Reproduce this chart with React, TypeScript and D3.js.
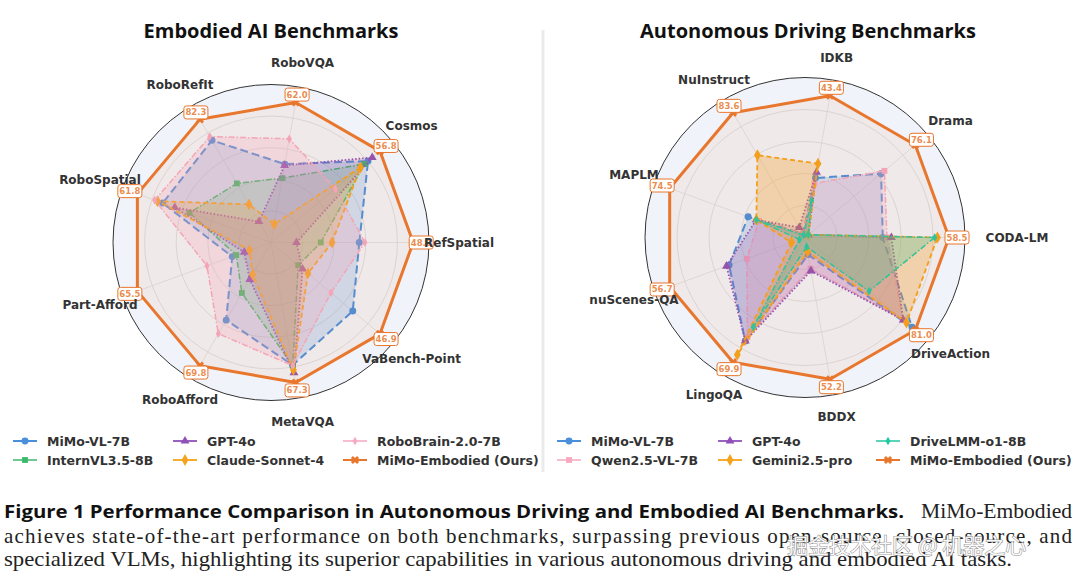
import * as d3 from "d3"

// ---- Embodied AI benchmarks (left) ----
const embodiedAxes = ["RefSpatial", "Cosmos", "RoboVQA", "RoboRefIt", "RoboSpatial", "Part-Afford", "RoboAfford", "MetaVQA", "VaBench-Point"]
const embodiedOurs = [48.0, 56.8, 62.0, 82.3, 61.8, 65.5, 69.8, 67.3, 46.9]
const embodiedMimoVL = [29.8, 50.6, 34.7, 68.3, 50.1, 19.0, 44.0, 58.9, 35.2]
const embodiedInternVL = [16.8, 48.8, 28.5, 39.5, 37.7, 17.0, 28.6, 59.2, 11.7]
const embodiedGPT4o = [8.6, 52.8, 34.1, 14.0, 44.5, 13.1, 20.9, 62.6, 13.6]
const embodiedClaude = [20.6, 46.6, 8.1, 25.5, 52.5, 10.5, 18.1, 61.2, 15.9]
const embodiedRoboBrain = [31.7, 33.5, 45.9, 70.8, 53.8, 31.4, 51.7, 59.2, 25.8]

// ---- Autonomous driving benchmarks (right) ----
const drivingAxes = ["CODA-LM", "Drama", "IDKB", "NuInstruct", "MAPLM", "nuScenes-QA", "LingoQA", "BDDX", "DriveAction"]
const drivingOurs = [58.5, 76.1, 43.4, 83.6, 74.5, 56.7, 69.9, 52.2, 81.0]
const drivingMimoVL = [31.6, 52.5, 18.2, 2.5, 31.3, 31.8, 58.0, 6.3, 78.6]
const drivingQwen = [33.3, 54.8, 16.5, 2.5, 25.3, 24.4, 55.9, 11.5, 72.1]
const drivingGPT4o = [35.1, 2.3, 20.0, 6.7, 26.8, 32.9, 58.0, 12.3, 72.1]
const drivingGemini = [53.8, 2.3, 22.6, 55.2, 26.8, 5.7, 65.7, 5.2, 74.5]
const drivingDriveLMM = [52.7, 2.3, 11.3, 1.7, 26.8, 2.3, 50.3, 3.4, 47.0]

type Marker = "circle" | "square" | "triangle" | "diamond" | "thin" | "x"
type Series = { name: string; values: number[]; color: string; dash: string; width: number; marker: Marker; fill: number }

const BLUE = "#4a8fdc"
const GREEN = "#3cba6c"
const PURPLE = "#9050b8"
const AMBER = "#f5a31a"
const PINK = "#f6a9c0"
const TEAL = "#22c9a0"
const OURS = "#e8762d"

const oursStyle = { color: OURS, dash: "none", width: 3, marker: "x" as Marker, fill: 0.08 }

const embodiedSeries: Series[] = [
  { name: "MiMo-VL-7B", values: embodiedMimoVL, color: BLUE, dash: "8,4", width: 2, marker: "circle", fill: 0.2 },
  { name: "InternVL3.5-8B", values: embodiedInternVL, color: GREEN, dash: "6,2,1.5,2", width: 1.5, marker: "square", fill: 0.2 },
  { name: "GPT-4o", values: embodiedGPT4o, color: PURPLE, dash: "1.5,2", width: 1.8, marker: "triangle", fill: 0.2 },
  { name: "Claude-Sonnet-4", values: embodiedClaude, color: AMBER, dash: "5,3", width: 1.8, marker: "diamond", fill: 0.25 },
  { name: "RoboBrain-2.0-7B", values: embodiedRoboBrain, color: PINK, dash: "6,2,1.5,2", width: 1.5, marker: "thin", fill: 0.25 },
  { name: "MiMo-Embodied (Ours)", values: embodiedOurs, ...oursStyle },
]

const drivingSeries: Series[] = [
  { name: "MiMo-VL-7B", values: drivingMimoVL, color: BLUE, dash: "8,4", width: 2, marker: "circle", fill: 0.2 },
  { name: "Qwen2.5-VL-7B", values: drivingQwen, color: PINK, dash: "6,2,1.5,2", width: 1.5, marker: "square", fill: 0.25 },
  { name: "GPT-4o", values: drivingGPT4o, color: PURPLE, dash: "1.5,2", width: 1.8, marker: "triangle", fill: 0.2 },
  { name: "Gemini2.5-pro", values: drivingGemini, color: AMBER, dash: "5,3", width: 1.8, marker: "diamond", fill: 0.3 },
  { name: "DriveLMM-o1-8B", values: drivingDriveLMM, color: TEAL, dash: "6,2,1.5,2", width: 1.5, marker: "thin", fill: 0.25 },
  { name: "MiMo-Embodied (Ours)", values: drivingOurs, ...oursStyle },
]

const LABEL_FONT = "'DejaVu Sans', sans-serif"

function markerPath(m: Marker) {
  const sym = {
    circle: [d3.symbolCircle, 38],
    square: [d3.symbolSquare, 34],
    triangle: [d3.symbolTriangle, 34],
    diamond: [d3.symbolDiamond, 40],
    thin: [d3.symbolDiamond, 22],
    x: [d3.symbolCross, 42],
  }[m] as [d3.SymbolType, number]
  return d3.symbol(sym[0], sym[1])() ?? ""
}

function Radar({ cx, cy, R, axes, ours, series, pad, eastShift }: {
  cx: number; cy: number; R: number; axes: string[]; ours: number[]; series: Series[]; pad: number; eastShift: number
}) {
  const n = axes.length
  const theta = (i: number) => (i * 2 * Math.PI) / n
  const r = d3.scaleLinear().domain([0, 1]).range([0, R])
  // every axis is scaled so that our score sits at 0.9 of the radius
  const norm = (v: number, i: number) => (v / ours[i]) * 0.9
  const line = d3.lineRadial<number>()
    .angle((_, i) => Math.PI / 2 - theta(i))
    .radius((v, i) => r(norm(v, i)))
    .curve(d3.curveLinearClosed)
  const pt = (rad: number, i: number) => [rad * Math.cos(theta(i)), -rad * Math.sin(theta(i))]

  return (
    <g transform={`translate(${cx},${cy})`}>
      <circle r={R} fill="#f0f3f9" stroke="#333" strokeWidth={1} />
      {[0.2, 0.4, 0.6, 0.8].map((t) => (
        <circle key={t} r={r(t)} fill="none" stroke="#d2d2d2" strokeWidth={0.7} />
      ))}
      {axes.map((_, i) => {
        const [x, y] = pt(R, i)
        return <line key={i} x1={0} y1={0} x2={x} y2={y} stroke="#d8d8d8" strokeWidth={0.7} />
      })}

      {series.map((s) => (
        <g key={s.name}>
          <path d={line(s.values) ?? ""} fill={s.color} fillOpacity={s.fill} stroke="none" />
          <path d={line(s.values) ?? ""} fill="none" stroke={s.color} strokeWidth={s.width}
            strokeDasharray={s.dash} strokeLinejoin="round" />
          {s.values.map((v, i) => {
            const [x, y] = pt(r(norm(v, i)), i)
            return (
              <path key={i} d={markerPath(s.marker)} fill={s.color}
                transform={`translate(${x},${y}) rotate(${s.marker === "x" ? 45 : 0})`} />
            )
          })}
        </g>
      ))}

      {/* value boxes for ours */}
      {ours.map((v, i) => {
        const [x, y] = pt(r(0.9) + 8, i)
        return (
          <g key={i} transform={`translate(${x},${y})`}>
            <rect x={-12} y={-6.5} width={24} height={13} rx={2.5} fill="#fff" stroke={OURS} strokeWidth={1} />
            <text textAnchor="middle" dominantBaseline="central" fontFamily={LABEL_FONT} fontWeight="bold"
              fontSize={8.5} fill={OURS} fillOpacity={0.85}>{v.toFixed(1)}</text>
          </g>
        )
      })}

      {/* axis labels */}
      {axes.map((a, i) => {
        const c = Math.cos(theta(i))
        const [x, y] = pt(R + pad, i)
        return (
          <text key={a} x={x + Math.pow(Math.max(0, c), 6) * eastShift} y={y} textAnchor="middle" dominantBaseline="central"
            fontFamily={LABEL_FONT} fontWeight="bold" fontSize={12} fill="#333">{a}</text>
        )
      })}
    </g>
  )
}

function Legend({ x0, y0, series, cols, rowGap }: { x0: number; y0: number; series: Series[]; cols: number[]; rowGap: number }) {
  return (
    <g>
      {series.map((s, k) => {
        const col = Math.floor(k / 2)
        const row = k % 2
        const x = x0 + cols[col]
        const y = y0 + row * rowGap
        return (
          <g key={s.name} transform={`translate(${x},${y})`}>
            <line x1={0} x2={24} y1={0} y2={0} stroke={s.color} strokeWidth={Math.min(s.width, 2)} />
            <path d={markerPath(s.marker)} fill={s.color} transform={`translate(12,0) rotate(${s.marker === "x" ? 45 : 0})`} />
            <text x={34} y={0} dominantBaseline="central" fontFamily={LABEL_FONT} fontWeight="bold" fontSize={12.5} fill="#333">{s.name}</text>
          </g>
        )
      })}
    </g>
  )
}

export default function App() {
  const titleFont = "'Open Sans', sans-serif"
  const serif = "'Liberation Serif', 'DejaVu Serif', serif"
  return (
    <svg width={1080} height={575} viewBox="0 0 1080 575"
      style={{ position: "absolute", left: 0, top: 0, display: "block", background: "#fff" }}>
      <rect width={1080} height={575} fill="#fff" />
      <line x1={543} x2={543} y1={30} y2={472} stroke="#ebebeb" strokeWidth={3} />

      <text x={271} y={30} textAnchor="middle" dominantBaseline="central" fontFamily={titleFont}
        fontWeight={700} fontSize={20} fill="#111">Embodied AI Benchmarks</text>
      <text x={808} y={30} textAnchor="middle" dominantBaseline="central" fontFamily={titleFont}
        fontWeight={700} fontSize={20} fill="#111">Autonomous Driving Benchmarks</text>

      <Radar cx={271} cy={242.5} R={158} axes={embodiedAxes} ours={embodiedOurs} series={embodiedSeries} pad={24} eastShift={6} />
      <Radar cx={805} cy={237.5} R={160} axes={drivingAxes} ours={drivingOurs} series={drivingSeries} pad={22} eastShift={30} />

      <Legend x0={13} y0={441} series={embodiedSeries} cols={[0, 160, 330]} rowGap={19} />
      <Legend x0={557} y0={441} series={drivingSeries} cols={[0, 161, 319]} rowGap={19} />

      <text x={4} y={518} fontFamily={titleFont} fontWeight={700} fontSize={18.5} fill="#111"
        textLength={900} lengthAdjust="spacingAndGlyphs">Figure 1  Performance Comparison in Autonomous Driving and Embodied AI Benchmarks.</text>
      <text x={921} y={518} fontFamily={serif} fontSize={20} fill="#222" textLength={151} lengthAdjust="spacingAndGlyphs">MiMo-Embodied</text>
      <text x={4} y={543} fontFamily={serif} fontSize={21} fill="#222" textLength={1068} lengthAdjust="spacing">achieves state-of-the-art performance on both benchmarks, surpassing previous open-source, closed-source, and</text>
      <text x={4} y={566} fontFamily={serif} fontSize={21} fill="#222" textLength={1008} lengthAdjust="spacingAndGlyphs">specialized VLMs, highlighting its superior capabilities in various autonomous driving and embodied AI tasks.</text>

      <text x={787} y={544} dominantBaseline="central" fontFamily="'Noto Sans CJK SC', sans-serif" fontSize={21}
        fill="#fff" stroke="#8a8a8a" strokeWidth={1} paintOrder="stroke" fillOpacity={0.95}>掘金技术社区 @ 机器之心</text>
    </svg>
  )
}
